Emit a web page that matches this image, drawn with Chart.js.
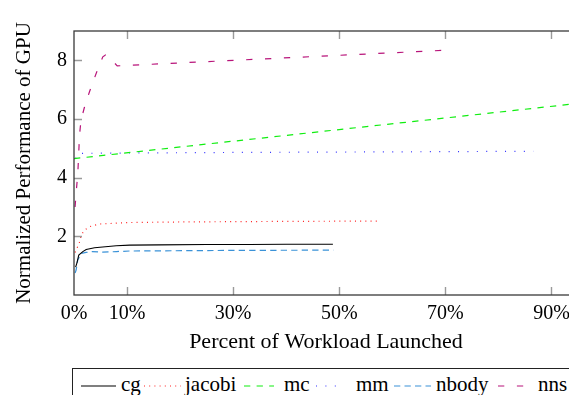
<!DOCTYPE html>
<html><head><meta charset="utf-8">
<script src="https://cdn.jsdelivr.net/npm/chart.js@4.4.1/dist/chart.umd.min.js"></script>
<style>
html,body{margin:0;padding:0;overflow:hidden;background:#fff;width:569px;height:395px;position:relative;}
#wrap{position:absolute;left:0;top:0;width:600px;height:360px;}
#legend{position:absolute;left:72px;top:368px;width:540px;height:44px;border:1.3px solid #222;box-sizing:border-box;font-family:"Liberation Serif",serif;font-size:21px;color:#000;}
#legend .s{position:absolute;top:15px;height:4px;}
#legend .t{position:absolute;top:3px;line-height:24px;white-space:nowrap;}
</style></head>
<body>
<div id="wrap"><canvas id="c" width="600" height="360"></canvas></div>
<div id="legend"></div>
<script>
const xTicks = [0, 10, 30, 50, 70, 90];
const yTicks = [2, 4, 6, 8];
const seriesNames = ['cg', 'jacobi', 'mc', 'mm', 'nbody', 'nns'];

const cgX = [0.3, 0.53, 0.9, 1.66, 2.3, 3.87, 7.96, 10.5, 16, 25, 33, 40, 48.8];
const cgY = [0.95, 1.08, 1.36, 1.48, 1.55, 1.61, 1.68, 1.70, 1.71, 1.72, 1.72, 1.73, 1.73];

const jacobiX = [0.2, 1.0, 1.36, 1.98, 2.9, 4.8, 7.2, 9.8, 20, 40, 57.7];
const jacobiY = [1.45, 1.77, 2.04, 2.21, 2.33, 2.42, 2.44, 2.47, 2.49, 2.51, 2.52];

const mcX = [0, 95];
const mcY = [4.65, 6.53];

const mmX = [0.3, 0.5, 1.0, 10, 30, 60, 86.6];
const mmY = [4.65, 4.75, 4.83, 4.84, 4.86, 4.88, 4.9];

const nbodyX = [0.2, 0.4, 0.7, 1.36, 2.3, 3.5, 5.4, 8.0, 10.5, 30, 48.9];
const nbodyY = [0.75, 0.85, 1.19, 1.42, 1.45, 1.48, 1.46, 1.48, 1.50, 1.52, 1.53];

const nnsX = [0.2, 0.42, 0.72, 1.04, 1.32, 1.98, 2.92, 4.19, 5.43, 5.94, 7.0, 8.15, 70.8];
const nnsY = [3.0, 3.52, 4.15, 5.45, 5.96, 6.41, 6.93, 7.56, 8.12, 8.18, 8.03, 7.81, 8.35];

const FONT = '"Liberation Serif", serif';
const styles = {
  cg:     {color: '#000000', dash: []},
  jacobi: {color: '#ff2020', dash: [1, 4.2]},
  mc:     {color: '#10ee10', dash: [6.3, 6.3]},
  mm:     {color: '#3030ff', dash: [1, 8.4]},
  nbody:  {color: '#3a92d8', dash: [6.3, 4.2]},
  nns:    {color: '#b8147a', dash: [6.3, 12.6]}
};
const xs = {cg: cgX, jacobi: jacobiX, mc: mcX, mm: mmX, nbody: nbodyX, nns: nnsX};
const ys = {cg: cgY, jacobi: jacobiY, mc: mcY, mm: mmY, nbody: nbodyY, nns: nnsY};

const datasets = seriesNames.map(n => ({
  label: n,
  data: xs[n].map((x, i) => ({x: x, y: ys[n][i]})),
  borderColor: styles[n].color,
  borderDash: styles[n].dash,
  borderWidth: n === 'cg' ? 1.1 : 1.2,
  pointRadius: 0,
  fill: false,
  tension: 0
}));

const framePlugin = {
  id: 'frame',
  afterDatasetsDraw(chart) {
    const {ctx, chartArea: a, scales: {x, y}} = chart;
    ctx.save();
    ctx.setLineDash([]);
    ctx.strokeStyle = '#9a9a9a';
    ctx.lineWidth = 1.4;
    const L = 8;
    xTicks.forEach(v => {
      if (v === 0) return;
      const px = Math.round(x.getPixelForValue(v)) + 0.5;
      ctx.beginPath();
      ctx.moveTo(px, a.bottom); ctx.lineTo(px, a.bottom - L);
      ctx.moveTo(px, a.top); ctx.lineTo(px, a.top + L);
      ctx.stroke();
    });
    yTicks.forEach(v => {
      const py = Math.round(y.getPixelForValue(v)) + 0.5;
      ctx.beginPath();
      ctx.moveTo(a.left, py); ctx.lineTo(a.left + L, py);
      ctx.moveTo(a.right, py); ctx.lineTo(a.right - L, py);
      ctx.stroke();
    });
    ctx.strokeStyle = '#3a3a3a';
    ctx.lineWidth = 1.3;
    ctx.strokeRect(a.left, a.top, a.right - a.left, a.bottom - a.top);
    ctx.restore();
  }
};

new Chart(document.getElementById('c'), {
  type: 'line',
  data: {datasets: datasets},
  plugins: [framePlugin],
  options: {
    responsive: false,
    animation: false,
    devicePixelRatio: 1,
    layout: {padding: {left: 0, top: 31, right: 22, bottom: 0}},
    plugins: {legend: {display: false}, tooltip: {enabled: false}},
    scales: {
      x: {
        type: 'linear', min: 0, max: 95,
        afterBuildTicks: s => { s.ticks = xTicks.map(v => ({value: v})); },
        afterFit: s => { s.height = 65; },
        grid: {display: false, drawTicks: false},
        border: {display: false},
        ticks: {autoSkip: false, maxRotation: 0, padding: 7, color: '#000',
                font: {family: FONT, size: 20}, callback: v => v + '%'},
        title: {display: true, text: 'Percent of Workload Launched', color: '#000',
                font: {family: FONT, size: 22}, padding: {top: 0, bottom: 5}}
      },
      y: {
        type: 'linear', min: 0, max: 9,
        afterBuildTicks: s => { s.ticks = yTicks.map(v => ({value: v})); },
        afterFit: s => { s.width = 74; },
        grid: {display: false, drawTicks: false},
        border: {display: false},
        ticks: {padding: 7, color: '#000', font: {family: FONT, size: 20}},
        title: {display: true, text: 'Normalized Performance of GPU', color: '#000',
                font: {family: FONT, size: 21}, padding: {top: 12, bottom: 0}}
      }
    }
  }
});

// HTML legend built from the same series
const legendPos = {
  cg:     {s: [8, 43],   t: 48},
  jacobi: {s: [71, 108], t: 112},
  mc:     {s: [171, 201], t: 211},
  mm:     {s: [243, 271], t: 283},
  nbody:  {s: [321, 358], t: 363},
  nns:    {s: [425, 451], t: 465}
};
const leg = document.getElementById('legend');
seriesNames.forEach(n => {
  const p = legendPos[n];
  const w = p.s[1] - p.s[0];
  const st = styles[n];
  const svg = document.createElementNS('http://www.w3.org/2000/svg', 'svg');
  svg.setAttribute('width', w); svg.setAttribute('height', 4);
  svg.setAttribute('class', 's');
  svg.style.left = p.s[0] + 'px';
  const ln = document.createElementNS('http://www.w3.org/2000/svg', 'line');
  ln.setAttribute('x1', 0); ln.setAttribute('x2', w);
  ln.setAttribute('y1', 2); ln.setAttribute('y2', 2);
  ln.setAttribute('stroke', st.color); ln.setAttribute('stroke-width', 1.2);
  if (st.dash.length) ln.setAttribute('stroke-dasharray', st.dash.join(' '));
  svg.appendChild(ln);
  leg.appendChild(svg);
  const t = document.createElement('span');
  t.className = 't'; t.style.left = p.t + 'px'; t.textContent = n;
  leg.appendChild(t);
});
</script>
</body></html>
